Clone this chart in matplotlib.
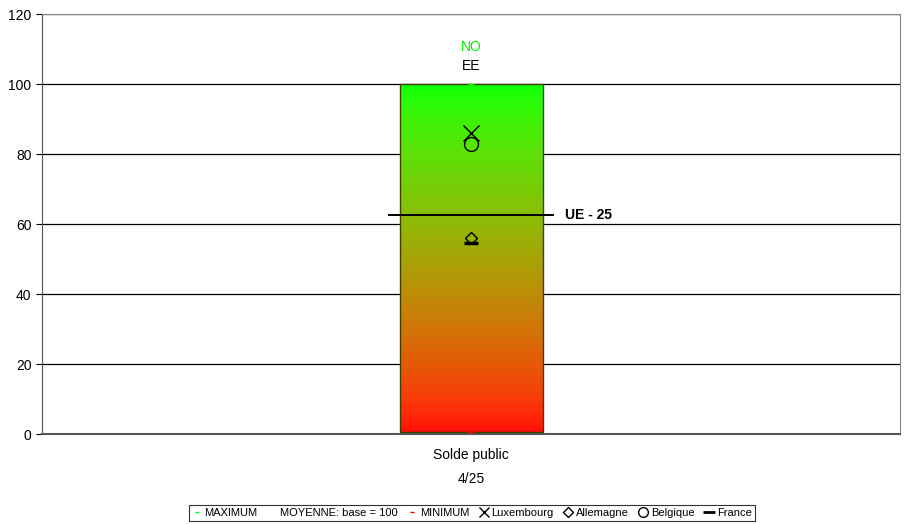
import matplotlib
matplotlib.use('Agg')
import matplotlib.pyplot as plt
import numpy as np
from matplotlib.lines import Line2D

plt.rcParams['font.family'] = ['Liberation Sans', 'DejaVu Sans']

category = 'Solde public\n4/25'
maximum = 100
minimum = 0.6
moyenne = 62.5
luxembourg = 86
belgique = 83
allemagne = 56
france = 54.5
top_label = 'NO'
second_label = 'EE'
ue_label = 'UE - 25'

fig = plt.figure(figsize=(9.05, 5.24), dpi=100)
ax = fig.add_axes([42 / 905, 1 - 434 / 524, 858 / 905, 420 / 524])
ax.set_xlim(-0.5, 0.5)
ax.set_ylim(0, 120)
ax.set_yticks(range(0, 121, 20))
ax.yaxis.grid(True, color='black', lw=0.9)
ax.set_axisbelow(True)

# gradient bar red -> green
bw = 143 / 858
t = np.linspace(0, 1, 256)
colors = np.zeros((256, 1, 3))
colors[:, 0, 0] = np.clip((1 - t) ** 0.7 + 0.04, 0, 1)
colors[:, 0, 1] = np.clip(t ** 0.7 * 0.98 + 0.04, 0, 1)
colors[:, 0, 2] = 0.03
ax.imshow(colors, extent=[-bw / 2, bw / 2, minimum, maximum], origin='lower',
          aspect='auto', zorder=2)
ax.add_patch(plt.Rectangle((-bw / 2, minimum), bw, maximum - minimum, fill=False,
                           ec='#404000', lw=1.0, zorder=3))

ax.plot([0], [maximum], marker='_', color='#00ff00', ms=4, zorder=4)
ax.plot([0], [minimum], marker='_', color='red', ms=4, zorder=4)
ax.plot([-0.095, 0.095], [moyenne, moyenne], color='black', lw=1.4, zorder=5)
ax.text(0.109, moyenne, ue_label, fontsize=10, fontweight='bold', va='center', zorder=5)

ax.plot([0], [luxembourg], marker='x', color='black', ms=12, mew=1.0, zorder=5)
ax.plot([0], [belgique], marker='o', mfc='none', mec='black', ms=10, mew=1.0, zorder=5)
ax.plot([0], [allemagne], marker='D', mfc='none', mec='black', ms=6, mew=1.0, zorder=5)
ax.plot([0], [france], marker='_', color='black', ms=10, mew=2.5, zorder=5)

ax.text(0, 110.5, top_label, color='#00ee00', ha='center', va='center', fontsize=10)
ax.text(0, 105.2, second_label, color='black', ha='center', va='center', fontsize=10)

ax.set_xticks([0])
ax.set_xticklabels([category], linespacing=1.9, fontsize=10)
ax.tick_params(axis='x', length=0, pad=10)
ax.tick_params(axis='y', labelsize=10, direction='out', length=4)
for s in ['top', 'right']:
    ax.spines[s].set_color('#888888')
ax.spines['left'].set_color('#555555')
ax.spines['bottom'].set_color('#555555')
ax.spines['bottom'].set_linewidth(1.5)

handles = [
    Line2D([], [], ls='none', marker='_', color='#00ff00', ms=3),
    Line2D([], [], ls='none'),
    Line2D([], [], ls='none', marker='_', color='red', ms=3),
    Line2D([], [], ls='none', marker='x', color='black', ms=7),
    Line2D([], [], ls='none', marker='D', mfc='none', mec='black', ms=5),
    Line2D([], [], ls='none', marker='o', mfc='none', mec='black', ms=7),
    Line2D([], [], ls='none', marker='_', color='black', ms=8, mew=2),
]
labels = ['MAXIMUM', 'MOYENNE: base = 100', 'MINIMUM', 'Luxembourg', 'Allemagne',
          'Belgique', 'France']
leg = fig.legend(handles, labels, loc='center', bbox_to_anchor=(472 / 905, 1 - 513 / 524),
                 ncol=7, fontsize=8, frameon=True, fancybox=False, edgecolor='black',
                 handlelength=0.8, handletextpad=0.3, columnspacing=0.9,
                 borderpad=0.3)
leg.get_frame().set_linewidth(0.8)

fig.savefig('out.png', dpi=100)
